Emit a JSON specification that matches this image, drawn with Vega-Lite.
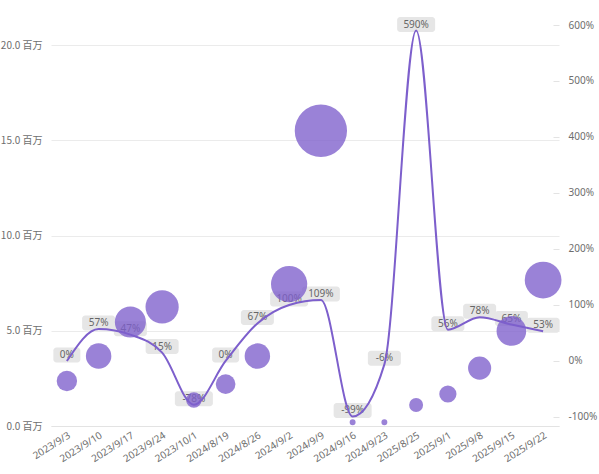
{
  "$schema": "https://vega.github.io/schema/vega-lite/v6.json",
  "width": 508,
  "height": 401,
  "autosize": {"type": "none"},
  "padding": {"left": 51, "top": 25, "right": 40, "bottom": 48},
  "background": "white",
  "config": {"view": {"stroke": null}},
  "data": {
    "values": [
      {"d": "2023/9/3", "v": 2.36, "p": 0, "label": "0%"},
      {"d": "2023/9/10", "v": 3.67, "p": 57, "label": "57%"},
      {"d": "2023/9/17", "v": 5.46, "p": 47, "label": "47%"},
      {"d": "2023/9/24", "v": 6.25, "p": 15, "label": "15%"},
      {"d": "2023/10/1", "v": 1.36, "p": -78, "label": "-78%"},
      {"d": "2024/8/19", "v": 2.2, "p": 0, "label": "0%"},
      {"d": "2024/8/26", "v": 3.67, "p": 67, "label": "67%"},
      {"d": "2024/9/2", "v": 7.45, "p": 100, "label": "100%"},
      {"d": "2024/9/9", "v": 15.5, "p": 109, "label": "109%"},
      {"d": "2024/9/16", "v": 0.2, "p": -99, "label": "-99%"},
      {"d": "2024/9/23", "v": 0.2, "p": -6, "label": "-6%"},
      {"d": "2025/8/25", "v": 1.1, "p": 590, "label": "590%"},
      {"d": "2025/9/1", "v": 1.68, "p": 56, "label": "56%"},
      {"d": "2025/9/8", "v": 3.04, "p": 78, "label": "78%"},
      {"d": "2025/9/15", "v": 4.99, "p": 65, "label": "65%"},
      {"d": "2025/9/22", "v": 7.66, "p": 53, "label": "53%"}
    ]
  },
  "encoding": {
    "x": {
      "field": "d",
      "type": "ordinal",
      "sort": null,
      "scale": {
        "domain": ["2023/9/3", "2023/9/10", "2023/9/17", "2023/9/24", "2023/10/1", "2024/8/19", "2024/8/26", "2024/9/2", "2024/9/9", "2024/9/16", "2024/9/23", "2025/8/25", "2025/9/1", "2025/9/8", "2025/9/15", "2025/9/22"],
        "paddingInner": 0,
        "paddingOuter": 0
      },
      "axis": {
        "title": null,
        "labelAngle": -32,
        "labelFontSize": 10,
        "labelColor": "#6e6e6e",
        "labelFont": "Noto Sans",
        "ticks": false,
        "domainColor": "#e3e3e3",
        "labelPadding": 4
      }
    }
  },
  "layer": [
    {
      "encoding": {
        "y": {"field": "p", "type": "quantitative", "scale": {"domain": [-116.1, 600], "nice": false, "zero": false}, "axis": null}
      },
      "layer": [
        {
          "transform": [{"filter": "length(datum.label) <= 2"}],
          "mark": {"type": "rect", "width": 27, "color": "#e6e6e6", "cornerRadius": 3, "yOffset": -13.5, "y2Offset": 1.5},
          "encoding": {"y2": {"field": "p"}}
        },
        {
          "transform": [{"filter": "length(datum.label) == 3"}],
          "mark": {"type": "rect", "width": 33, "color": "#e6e6e6", "cornerRadius": 3, "yOffset": -13.5, "y2Offset": 1.5},
          "encoding": {"y2": {"field": "p"}}
        },
        {
          "transform": [{"filter": "length(datum.label) >= 4"}],
          "mark": {"type": "rect", "width": 38, "color": "#e6e6e6", "cornerRadius": 3, "yOffset": -13.5, "y2Offset": 1.5},
          "encoding": {"y2": {"field": "p"}}
        },
        {
          "mark": {"type": "text", "dy": -6, "fontSize": 10, "color": "#666666", "font": "Noto Sans"},
          "encoding": {"text": {"field": "label"}}
        }
      ]
    },
    {
      "mark": {"type": "circle", "color": "#7d5fcc", "opacity": 0.78},
      "encoding": {
        "y": {
          "field": "v",
          "type": "quantitative",
          "scale": {"domain": [0, 21.05], "nice": false, "zero": true},
          "axis": {
            "orient": "left",
            "title": null,
            "values": [0, 5, 10, 15, 20],
            "labelExpr": "format(datum.value, '.1f') + ' 百万'",
            "domain": false,
            "ticks": false,
            "grid": true,
            "gridColor": "#ebebeb",
            "labelColor": "#6e6e6e",
            "labelFontSize": 10,
            "labelFont": "Noto Sans CJK SC",
            "labelPadding": 9
          }
        },
        "size": {"field": "v", "type": "quantitative", "scale": {"domain": [0, 15.5], "range": [0, 2734], "zero": true}, "legend": null}
      }
    },
    {
      "mark": {"type": "line", "interpolate": "monotone", "color": "#7d5fcc", "strokeWidth": 2},
      "encoding": {
        "y": {
          "field": "p",
          "type": "quantitative",
          "scale": {"domain": [-116.1, 600], "nice": false, "zero": false},
          "axis": {
            "orient": "right",
            "title": null,
            "values": [-100, 0, 100, 200, 300, 400, 500, 600],
            "labelExpr": "datum.value + '%'",
            "domain": false,
            "grid": false,
            "ticks": true,
            "tickSize": -6,
            "tickColor": "#e3e3e3",
            "labelColor": "#6e6e6e",
            "labelFontSize": 10,
            "labelFont": "Noto Sans",
            "labelPadding": 15
          }
        }
      }
    }
  ],
  "resolve": {"scale": {"y": "independent"}}
}
